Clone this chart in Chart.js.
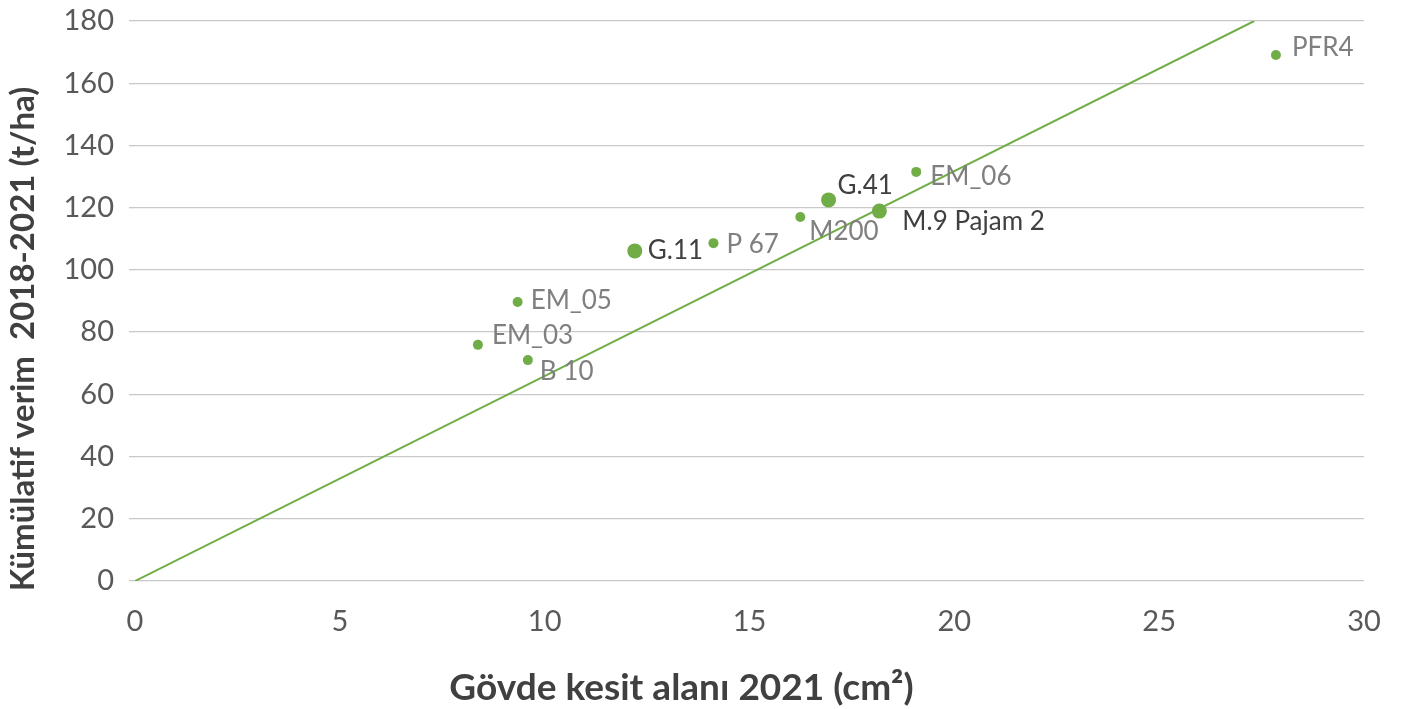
<!DOCTYPE html>
<html>
<head>
<meta charset="utf-8">
<script src="https://cdn.jsdelivr.net/npm/chart.js@4/dist/chart.umd.min.js"></script>
<style>
  html, body { margin: 0; padding: 0; background: #fff; }
  #wrap { width: 1401px; height: 709px; }
</style>
</head>
<body>
<div id="wrap"><canvas id="chart"></canvas></div>
<script>
"use strict";

// rootstocks, trunk cross-section area 2021 (cm2) and cumulative yield 2018-2021 (t/ha)
const rootstocks = ['PFR4', 'EM_06', 'G.41', 'M.9 Pajam 2', 'M200', 'P 67', 'G.11', 'EM_05', 'EM_03', 'B 10'];
const trunkArea = [27.85, 19.07, 16.93, 18.17, 16.24, 14.12, 12.2, 9.34, 8.37, 9.59];
const yieldTotal = [169.1, 131.5, 122.5, 118.9, 117.0, 108.6, 106.1, 89.7, 75.9, 71.0];
const featured = ['G.41', 'M.9 Pajam 2', 'G.11'];

// trend line through the origin
const trendX = [0, 27.32];
const trendY = [0, 180];

const xTicks = [0, 5, 10, 15, 20, 25, 30];
const yTicks = [0, 20, 40, 60, 80, 100, 120, 140, 160, 180];

const xTitle = 'Gövde kesit alanı 2021 (cm²)';
const yTitle = 'Kümülatif verim  2018-2021 (t/ha)';

// where each label sits next to its point (px)
const labelOffsets = [[16, -7], [14, 5], [9, -14], [23, 11], [9, 15], [13, 1], [13, 0], [13, -1], [14, -9], [12, 11]];

const green = '#70ad47';

var points = rootstocks.map(function(name, i) {
    return { x: trunkArea[i], y: yieldTotal[i] };
});
var trend = trendX.map(function(x, i) { return { x: x, y: trendY[i] }; });

var pointLabels = {
    id: 'pointLabels',
    afterDatasetsDraw(chart) {
        let ctx = chart.ctx;
        let meta = chart.getDatasetMeta(1);
        ctx.save();
        ctx.font = '26px Lato';
        ctx.textAlign = 'left';
        ctx.textBaseline = 'middle';
        meta.data.forEach(function(el, i) {
            let name = rootstocks[i];
            ctx.fillStyle = featured.includes(name) ? '#404040' : '#7f7f7f';
            ctx.fillText(name, el.x + labelOffsets[i][0], el.y + labelOffsets[i][1]);
        });
        ctx.restore();
    }
};

var axisTitles = {
    id: 'axisTitles',
    afterDraw(chart) {
        let ctx = chart.ctx;
        let area = chart.chartArea;
        ctx.save();
        ctx.fillStyle = '#404040';
        ctx.textAlign = 'center';
        ctx.textBaseline = 'middle';
        ctx.font = 'bold 37px Lato';
        ctx.fillText(xTitle, (area.left + area.right) / 2 - 68, 688);
        ctx.font = 'bold 33px Lato';
        ctx.translate(23, (area.top + area.bottom) / 2 + 38);
        ctx.rotate(-Math.PI / 2);
        ctx.fillText(yTitle, 0, 0);
        ctx.restore();
    }
};

new Chart(document.getElementById('chart'), {
    type: 'scatter',
    data: {
        datasets: [{
            type: 'line',
            data: trend,
            borderColor: green,
            borderWidth: 2,
            pointRadius: 0,
            fill: false
        }, {
            data: points,
            backgroundColor: green,
            borderColor: green,
            borderWidth: 0,
            pointRadius: rootstocks.map((n) => featured.includes(n) ? 7.5 : 5),
            pointHoverRadius: rootstocks.map((n) => featured.includes(n) ? 7.5 : 5)
        }]
    },
    options: {
        responsive: true,
        maintainAspectRatio: false,
        animation: false,
        layout: { padding: { top: 21, right: 37, bottom: 0, left: 0 } },
        plugins: {
            legend: { display: false },
            tooltip: { enabled: false }
        },
        scales: {
            x: {
                type: 'linear',
                min: 0, max: 30,
                afterBuildTicks: (s) => { s.ticks = xTicks.map((v) => ({ value: v })); },
                afterFit: (s) => { s.height = 128; s.paddingLeft = 0; s.paddingRight = 0; },
                grid: { display: false, drawTicks: false },
                border: { display: false },
                ticks: {
                    font: { family: 'Lato', size: 29 },
                    color: '#595959',
                    padding: 23,
                    maxRotation: 0
                }
            },
            y: {
                type: 'linear',
                min: 0, max: 180,
                afterBuildTicks: (s) => { s.ticks = yTicks.map((v) => ({ value: v })); },
                afterFit: (s) => { s.width = 135; s.paddingTop = 0; s.paddingBottom = 0; },
                grid: { color: '#c9c9c9', lineWidth: 1.3, tickLength: 6, tickColor: '#c9c9c9' },
                border: { display: false },
                ticks: {
                    font: { family: 'Lato', size: 29 },
                    color: '#595959',
                    padding: 15
                }
            }
        }
    },
    plugins: [pointLabels, axisTitles]
});
</script>
</body>
</html>
